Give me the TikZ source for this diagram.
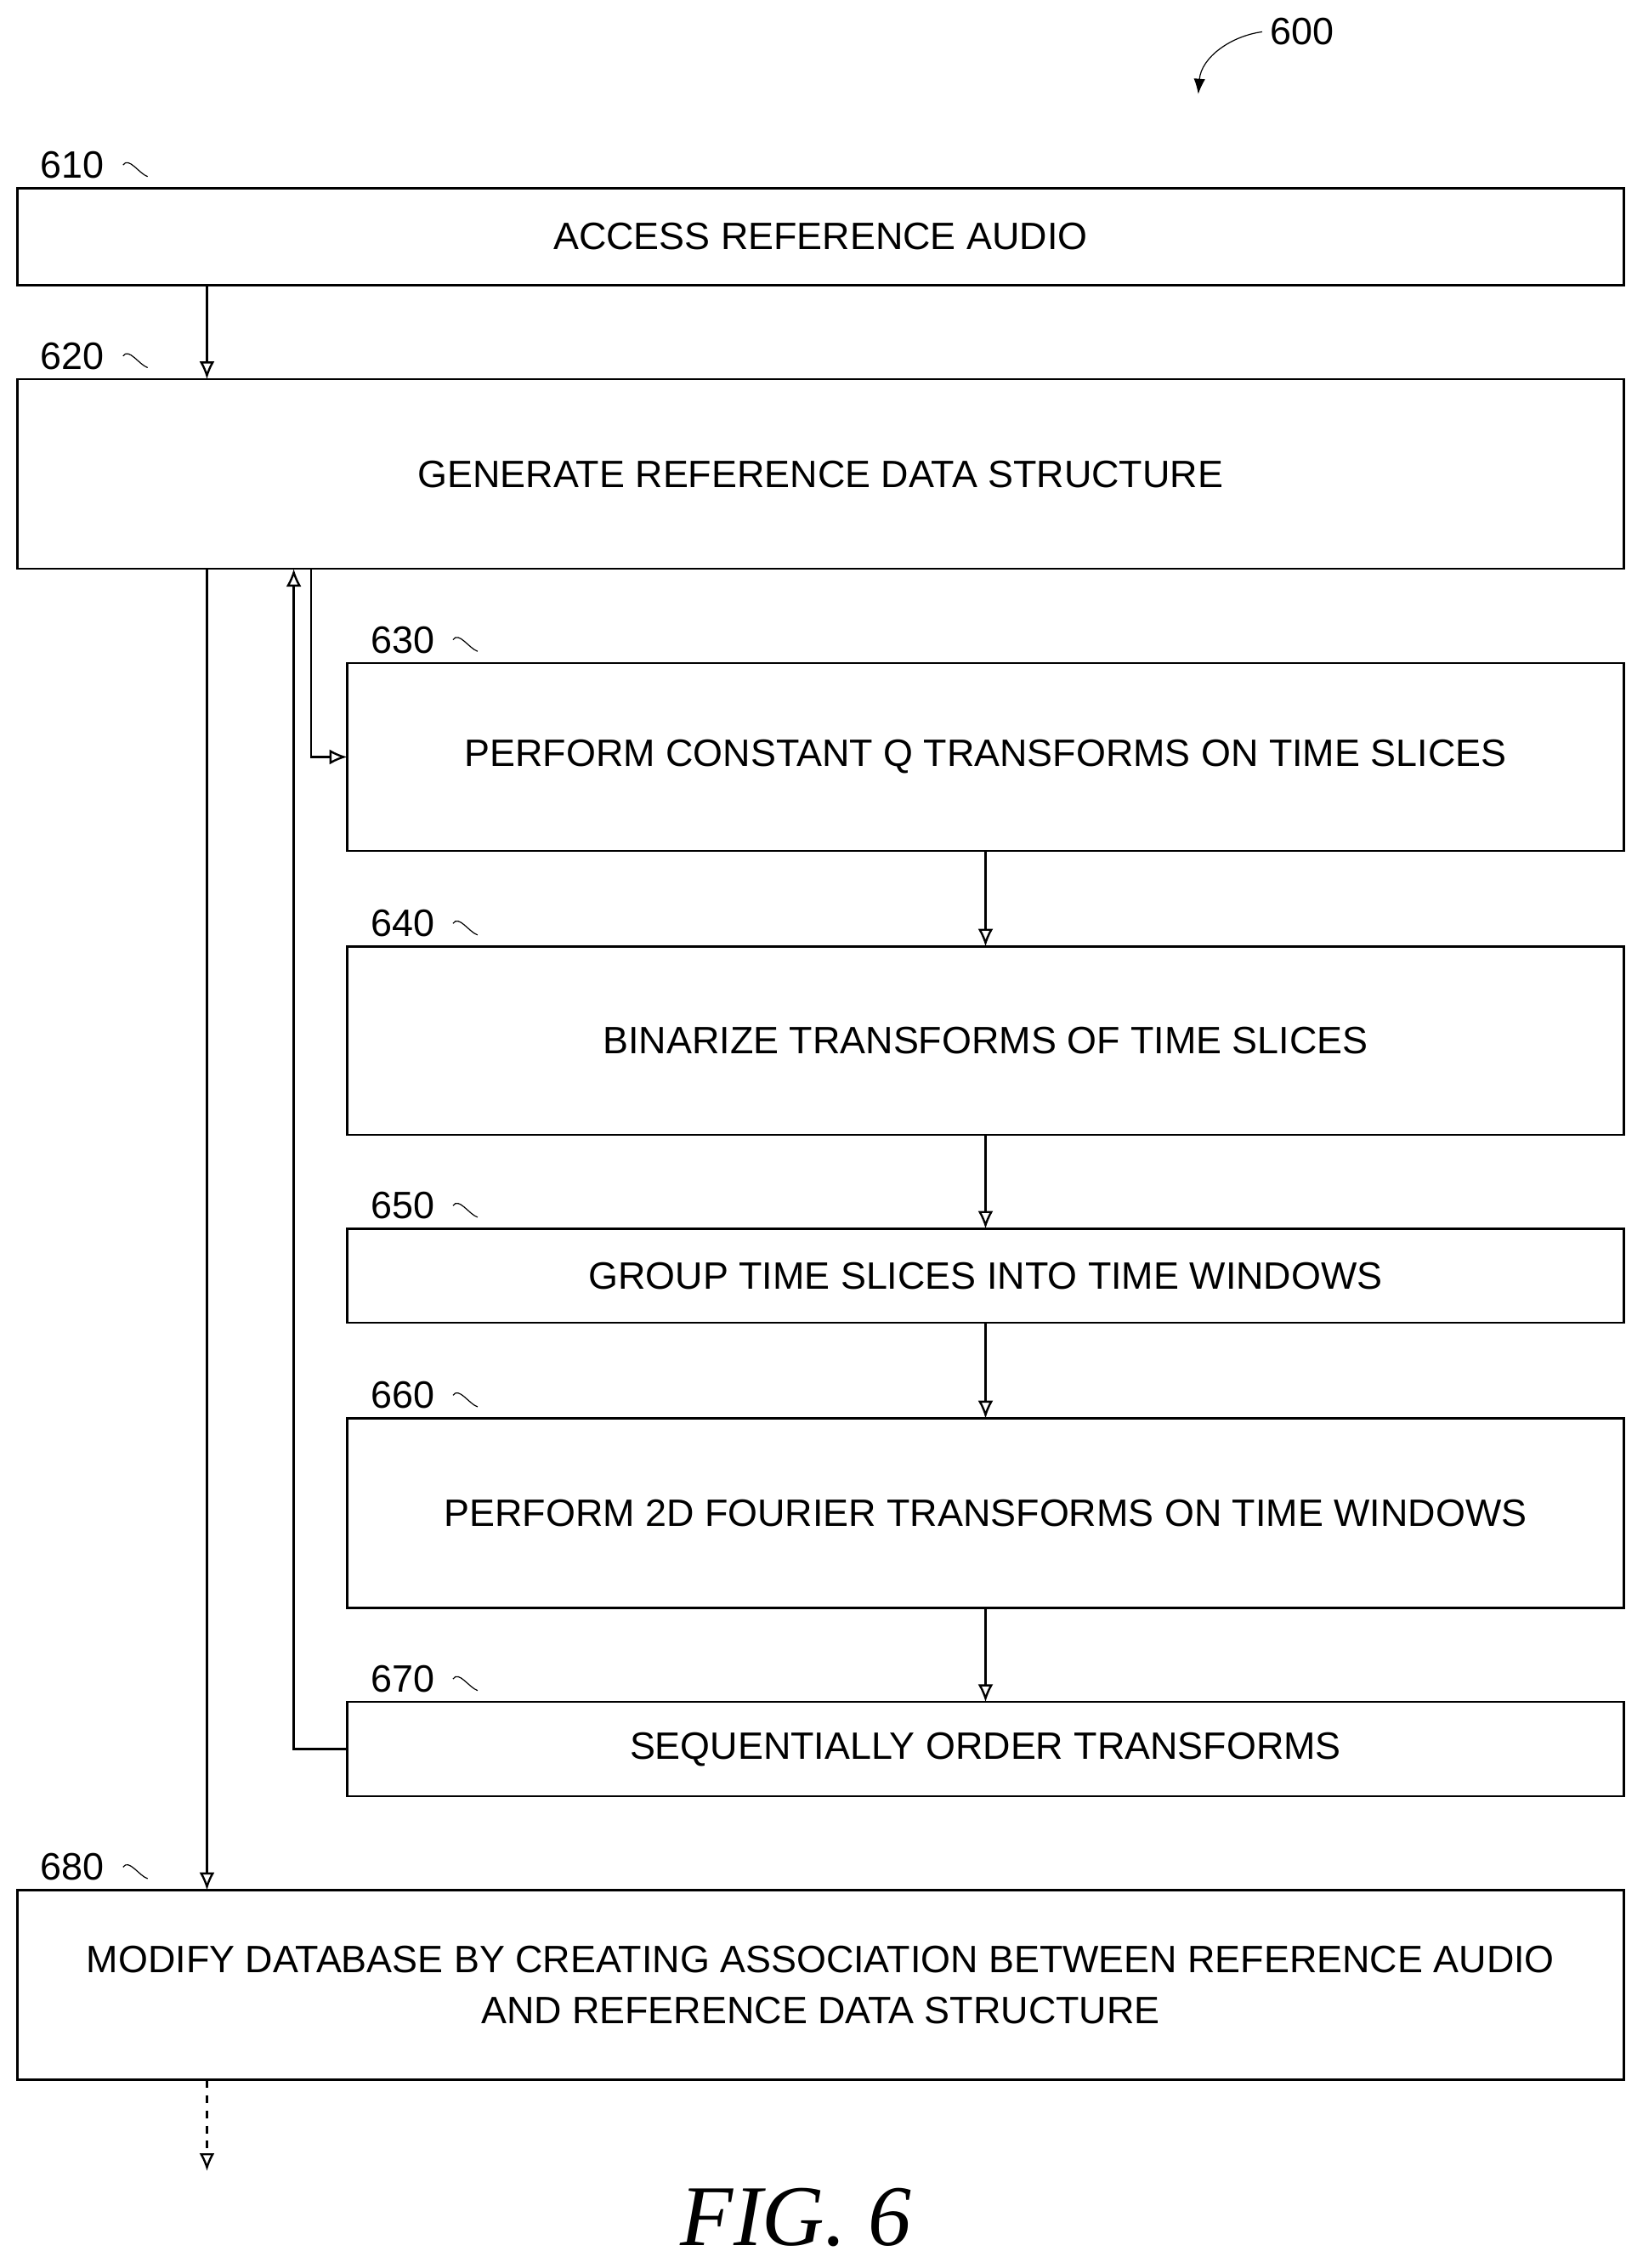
\documentclass[tikz,border=0pt]{standalone}
\usepackage{fontspec}
\setmainfont{Liberation Sans}
\usetikzlibrary{arrows.meta}

\begin{document}
\begin{tikzpicture}[x=0.02cm,y=-0.02cm,thick,
 every node/.style={outer sep=0pt,font=\fontsize{15}{20}\selectfont},
 stage/.style={draw,thick,inner sep=0pt,anchor=north west},
 tag/.style={anchor=east},
 flow/.style={-{Latex[open,length=7pt,width=6pt]},thick}]
  \useasboundingbox (0,0) rectangle (1135,1567);

  \node[stage,minimum width=1110*0.02cm,minimum height=67*0.02cm] (b610) at (12,130) {ACCESS REFERENCE AUDIO};
  \node[stage,minimum width=1110*0.02cm,minimum height=131*0.02cm] (b620) at (12,262) {GENERATE REFERENCE DATA STRUCTURE};
  \node[stage,minimum width=882*0.02cm,minimum height=130*0.02cm] (b630) at (240,458) {PERFORM CONSTANT Q TRANSFORMS ON TIME SLICES};
  \node[stage,minimum width=882*0.02cm,minimum height=130*0.02cm] (b640) at (240,654) {BINARIZE TRANSFORMS OF TIME SLICES};
  \node[stage,minimum width=882*0.02cm,minimum height=65*0.02cm] (b650) at (240,849) {GROUP TIME SLICES INTO TIME WINDOWS};
  \node[stage,minimum width=882*0.02cm,minimum height=131*0.02cm] (b660) at (240,980) {PERFORM 2D FOURIER TRANSFORMS ON TIME WINDOWS};
  \node[stage,minimum width=882*0.02cm,minimum height=65*0.02cm] (b670) at (240,1176) {SEQUENTIALLY ORDER TRANSFORMS};
  \node[stage,minimum width=1110*0.02cm,minimum height=131*0.02cm,align=center] (b680) at (12,1306)
   {MODIFY DATABASE BY CREATING ASSOCIATION BETWEEN REFERENCE AUDIO\\AND REFERENCE DATA STRUCTURE};

  % reference numerals
  \foreach \N/\X/\Y in {610/12/130,620/12/262,630/240/458,640/240/654,650/240/849,660/240/980,670/240/1176,680/12/1306}
  {\node[tag] (t\N) at (\X+66,\Y-16) {\N};
   \draw[thin] ([xshift=4pt]t\N.east) .. controls +(4,-6) and +(-6,-2) .. +(17,8);}
  \node (t600) at (900,22) {600};
  \coordinate (a600) at (828,65);
  \draw[thin,-{Latex[length=6pt]}] (t600.west) .. controls (850,25) and (830,40) .. (a600);

  % main flow
  \draw[flow] (b610.south west-|143,0) -- (b620.north west-|143,0);
  \draw[flow] (b620.south west-|143,0) -- (b680.north west-|143,0);
  \coordinate (end) at (143,1500);
  \draw[flow,dashed] (b680.south west-|143,0) -- (end);
  \draw[flow] (b620.south west-|215,0) |- (b630.west);
  \draw[flow] (b670.west) -| (b620.south west-|203,0);
  \foreach \A/\B in {630/640,640/650,650/660,660/670}
   \draw[flow] (b\A.south west-|681,0) -- (b\B.north west-|681,0);

  \node (fig) at (550,1532) {\fontsize{34}{38}\fontspec{Liberation Serif}\itshape FIG. 6};
\end{tikzpicture}
\end{document}
